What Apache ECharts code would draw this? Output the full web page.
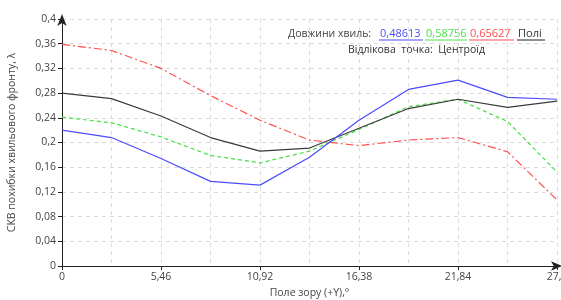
<!DOCTYPE html>
<html>
<head>
<meta charset="utf-8">
<script src="https://cdn.jsdelivr.net/npm/echarts@6/dist/echarts.min.js"></script>
<style>
  html, body { margin: 0; padding: 0; background: #fff; }
  #chart { width: 561px; height: 300px; }
</style>
</head>
<body>
<div id="chart"></div>
<script>
// поле зору, крок 2,73°
var fieldAngles = ['0', '2,73', '5,46', '8,19', '10,92', '13,65', '16,38', '19,11', '21,84', '24,57', '27,3'];
// СКВ для кожної довжини хвилі
var wave48613 = [0.220, 0.208, 0.174, 0.137, 0.131, 0.176, 0.236, 0.286, 0.301, 0.273, 0.270];
var wave58756 = [0.241, 0.232, 0.209, 0.179, 0.167, 0.186, 0.221, 0.258, 0.270, 0.234, 0.152];
var wave65627 = [0.359, 0.349, 0.320, 0.276, 0.236, 0.204, 0.195, 0.204, 0.208, 0.185, 0.107];
var wavePoly  = [0.280, 0.271, 0.243, 0.208, 0.186, 0.191, 0.223, 0.255, 0.270, 0.257, 0.267];

var FONT = 'Open Sans';
var BLUE = '#4c4cff', GREEN = '#4ae24a', RED = '#ff4c4c', DARK = '#3a3a3a';
var gridDash = { color: '#dcdcdc', type: [4, 4], width: 1 };

var comma = function(v) {
    return String(+v.toFixed(2)).replace('.', ',');
};

var mkLine = function(name, data, color, dash) {
    return {
        name: name,
        type: 'line',
        data: data,
        symbol: 'none',
        animation: false,
        lineStyle: { color: color, width: 1.2, type: dash }
    };
};

// підписи з підкресленням (як у легенді оригіналу)
var mkLabel = function(text, x, color, lineTo, lineColor) {
    return [
        { type: 'text', left: x, top: 28, style: { text: text, fontFamily: FONT, fontSize: 11, fill: color } },
        { type: 'line', shape: { x1: x - 1, y1: 40, x2: lineTo, y2: 40 }, style: { stroke: lineColor, lineWidth: 1 } }
    ];
};

var graphics = [
    { type: 'text', left: 288, top: 29, style: { text: 'Довжини хвиль:', fontFamily: FONT, fontSize: 10.5, fill: '#444' } },
    { type: 'text', left: 348, top: 45, style: { text: 'Відлікова  точка:  Центроїд', fontFamily: FONT, fontSize: 10.5, fill: '#333' } }
]
    .concat(mkLabel('0,48613', 380, BLUE, 423, BLUE))
    .concat(mkLabel('0,58756', 426, GREEN, 467, GREEN))
    .concat(mkLabel('0,65627', 470, RED, 514, RED))
    .concat(mkLabel('Полі', 518, '#333', 545, '#222'));

var myChart = echarts.init(document.getElementById('chart'));
var option = {
    backgroundColor: '#fff',
    animation: false,
    grid: { left: 62, right: 4, top: 19, bottom: 34, containLabel: false, outerBoundsMode: 'none' },
    xAxis: {
        type: 'category',
        boundaryGap: false,
        data: fieldAngles,
        name: 'Поле зору (+Y),°',
        nameLocation: 'middle',
        nameGap: 21,
        nameTextStyle: { fontFamily: FONT, fontSize: 10.5, color: '#444' },
        axisLine: { lineStyle: { color: '#222', width: 1 }, symbol: ['none', 'arrow'], symbolSize: [7, 11], symbolOffset: [0, 5] },
        axisTick: { interval: 1, length: 4, lineStyle: { color: '#222' } },
        axisLabel: { interval: 1, margin: 6, fontFamily: FONT, fontSize: 10.5, color: '#444' },
        splitLine: { show: true, interval: 0, lineStyle: gridDash }
    },
    yAxis: {
        type: 'value',
        min: 0,
        max: 0.4,
        interval: 0.04,
        name: 'СКВ похибки хвильового фронту, λ',
        nameLocation: 'middle',
        nameGap: 44,
        nameTextStyle: { fontFamily: FONT, fontSize: 10.5, color: '#444' },
        axisLine: { show: true, lineStyle: { color: '#222', width: 1 }, symbol: ['none', 'arrow'], symbolSize: [7, 12], symbolOffset: [0, 5] },
        axisTick: { show: true, length: 4, lineStyle: { color: '#222' } },
        axisLabel: { margin: 6, fontFamily: FONT, fontSize: 10.5, color: '#444', formatter: comma },
        splitLine: { show: true, lineStyle: gridDash }
    },
    graphic: graphics,
    series: [
        mkLine('0,65627', wave65627, '#ff5050', [8, 3, 2, 3]),
        mkLine('0,58756', wave58756, '#40e040', [4, 3]),
        mkLine('Полі', wavePoly, DARK, 'solid'),
        mkLine('0,48613', wave48613, BLUE, 'solid')
    ]
};
myChart.setOption(option);
</script>
</body>
</html>
